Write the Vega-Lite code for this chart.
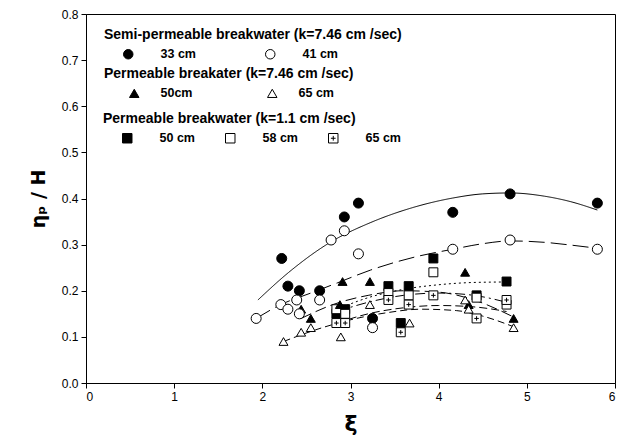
{
  "$schema": "https://vega.github.io/schema/vega-lite/v6.json",
  "width": 529,
  "height": 369,
  "autosize": {"type": "none"},
  "padding": {"left": 86, "top": 14, "right": 13, "bottom": 63},
  "background": "white",
  "datasets": {
    "points": [
      {"group": "semi", "series": "33 cm", "xi": 2.22, "eta": 0.27},
      {"group": "semi", "series": "33 cm", "xi": 2.29, "eta": 0.21},
      {"group": "semi", "series": "33 cm", "xi": 2.42, "eta": 0.20},
      {"group": "semi", "series": "33 cm", "xi": 2.65, "eta": 0.20},
      {"group": "semi", "series": "33 cm", "xi": 2.93, "eta": 0.36},
      {"group": "semi", "series": "33 cm", "xi": 3.09, "eta": 0.39},
      {"group": "semi", "series": "33 cm", "xi": 3.25, "eta": 0.14},
      {"group": "semi", "series": "33 cm", "xi": 4.16, "eta": 0.37},
      {"group": "semi", "series": "33 cm", "xi": 4.81, "eta": 0.41},
      {"group": "semi", "series": "33 cm", "xi": 5.80, "eta": 0.39},
      {"group": "semi", "series": "41 cm", "xi": 1.93, "eta": 0.14},
      {"group": "semi", "series": "41 cm", "xi": 2.21, "eta": 0.17},
      {"group": "semi", "series": "41 cm", "xi": 2.29, "eta": 0.16},
      {"group": "semi", "series": "41 cm", "xi": 2.39, "eta": 0.18},
      {"group": "semi", "series": "41 cm", "xi": 2.42, "eta": 0.15},
      {"group": "semi", "series": "41 cm", "xi": 2.65, "eta": 0.18},
      {"group": "semi", "series": "41 cm", "xi": 2.78, "eta": 0.31},
      {"group": "semi", "series": "41 cm", "xi": 2.93, "eta": 0.33},
      {"group": "semi", "series": "41 cm", "xi": 3.09, "eta": 0.28},
      {"group": "semi", "series": "41 cm", "xi": 3.25, "eta": 0.12},
      {"group": "semi", "series": "41 cm", "xi": 4.16, "eta": 0.29},
      {"group": "semi", "series": "41 cm", "xi": 4.81, "eta": 0.31},
      {"group": "semi", "series": "41 cm", "xi": 5.80, "eta": 0.29},
      {"group": "perm746", "series": "50cm", "xi": 2.44, "eta": 0.16},
      {"group": "perm746", "series": "50cm", "xi": 2.55, "eta": 0.14},
      {"group": "perm746", "series": "50cm", "xi": 2.88, "eta": 0.17},
      {"group": "perm746", "series": "50cm", "xi": 2.91, "eta": 0.22},
      {"group": "perm746", "series": "50cm", "xi": 3.22, "eta": 0.22},
      {"group": "perm746", "series": "50cm", "xi": 4.30, "eta": 0.24},
      {"group": "perm746", "series": "50cm", "xi": 4.34, "eta": 0.17},
      {"group": "perm746", "series": "50cm", "xi": 4.85, "eta": 0.14},
      {"group": "perm746", "series": "65 cm", "xi": 2.24, "eta": 0.09},
      {"group": "perm746", "series": "65 cm", "xi": 2.44, "eta": 0.11},
      {"group": "perm746", "series": "65 cm", "xi": 2.55, "eta": 0.12},
      {"group": "perm746", "series": "65 cm", "xi": 2.89, "eta": 0.10},
      {"group": "perm746", "series": "65 cm", "xi": 3.22, "eta": 0.17},
      {"group": "perm746", "series": "65 cm", "xi": 3.67, "eta": 0.13},
      {"group": "perm746", "series": "65 cm", "xi": 4.30, "eta": 0.18},
      {"group": "perm746", "series": "65 cm", "xi": 4.34, "eta": 0.16},
      {"group": "perm746", "series": "65 cm", "xi": 4.85, "eta": 0.12},
      {"group": "perm11", "series": "50 cm", "xi": 2.84, "eta": 0.15},
      {"group": "perm11", "series": "50 cm", "xi": 2.94, "eta": 0.16},
      {"group": "perm11", "series": "50 cm", "xi": 3.43, "eta": 0.21},
      {"group": "perm11", "series": "50 cm", "xi": 3.57, "eta": 0.13},
      {"group": "perm11", "series": "50 cm", "xi": 3.66, "eta": 0.21},
      {"group": "perm11", "series": "50 cm", "xi": 3.94, "eta": 0.27},
      {"group": "perm11", "series": "50 cm", "xi": 4.43, "eta": 0.19},
      {"group": "perm11", "series": "50 cm", "xi": 4.77, "eta": 0.22},
      {"group": "perm11", "series": "58 cm", "xi": 2.84, "eta": 0.16},
      {"group": "perm11", "series": "58 cm", "xi": 2.94, "eta": 0.15},
      {"group": "perm11", "series": "58 cm", "xi": 3.43, "eta": 0.195},
      {"group": "perm11", "series": "58 cm", "xi": 3.66, "eta": 0.19},
      {"group": "perm11", "series": "58 cm", "xi": 3.94, "eta": 0.24},
      {"group": "perm11", "series": "58 cm", "xi": 4.43, "eta": 0.185},
      {"group": "perm11", "series": "58 cm", "xi": 4.77, "eta": 0.17},
      {"group": "perm11", "series": "65 cm", "xi": 2.84, "eta": 0.13},
      {"group": "perm11", "series": "65 cm", "xi": 2.94, "eta": 0.13},
      {"group": "perm11", "series": "65 cm", "xi": 3.43, "eta": 0.18},
      {"group": "perm11", "series": "65 cm", "xi": 3.57, "eta": 0.11},
      {"group": "perm11", "series": "65 cm", "xi": 3.66, "eta": 0.17},
      {"group": "perm11", "series": "65 cm", "xi": 3.94, "eta": 0.19},
      {"group": "perm11", "series": "65 cm", "xi": 4.43, "eta": 0.14},
      {"group": "perm11", "series": "65 cm", "xi": 4.77, "eta": 0.18}
    ],
    "curves": [
      {"curve": "semi 33", "xi": 1.95, "eta": 0.18},
      {"curve": "semi 33", "xi": 2.3, "eta": 0.24},
      {"curve": "semi 33", "xi": 2.77, "eta": 0.305},
      {"curve": "semi 33", "xi": 3.23, "eta": 0.348},
      {"curve": "semi 33", "xi": 3.7, "eta": 0.38},
      {"curve": "semi 33", "xi": 4.16, "eta": 0.401},
      {"curve": "semi 33", "xi": 4.5, "eta": 0.41},
      {"curve": "semi 33", "xi": 4.81, "eta": 0.412},
      {"curve": "semi 33", "xi": 5.2, "eta": 0.405},
      {"curve": "semi 33", "xi": 5.5, "eta": 0.393},
      {"curve": "semi 33", "xi": 5.8, "eta": 0.375},
      {"curve": "semi 41", "xi": 1.93, "eta": 0.14},
      {"curve": "semi 41", "xi": 2.21, "eta": 0.17},
      {"curve": "semi 41", "xi": 2.55, "eta": 0.195},
      {"curve": "semi 41", "xi": 2.85, "eta": 0.217},
      {"curve": "semi 41", "xi": 3.23, "eta": 0.245},
      {"curve": "semi 41", "xi": 3.77, "eta": 0.275},
      {"curve": "semi 41", "xi": 4.16, "eta": 0.29},
      {"curve": "semi 41", "xi": 4.5, "eta": 0.302},
      {"curve": "semi 41", "xi": 4.81, "eta": 0.308},
      {"curve": "semi 41", "xi": 5.2, "eta": 0.305},
      {"curve": "semi 41", "xi": 5.5, "eta": 0.299},
      {"curve": "semi 41", "xi": 5.8, "eta": 0.292},
      {"curve": "perm 50", "xi": 2.44, "eta": 0.14},
      {"curve": "perm 50", "xi": 2.8, "eta": 0.17},
      {"curve": "perm 50", "xi": 3.2, "eta": 0.19},
      {"curve": "perm 50", "xi": 3.6, "eta": 0.2},
      {"curve": "perm 50", "xi": 4.0, "eta": 0.197},
      {"curve": "perm 50", "xi": 4.4, "eta": 0.18},
      {"curve": "perm 50", "xi": 4.85, "eta": 0.143},
      {"curve": "perm 65", "xi": 2.24, "eta": 0.09},
      {"curve": "perm 65", "xi": 2.6, "eta": 0.115},
      {"curve": "perm 65", "xi": 3.0, "eta": 0.137},
      {"curve": "perm 65", "xi": 3.4, "eta": 0.152},
      {"curve": "perm 65", "xi": 3.8, "eta": 0.16},
      {"curve": "perm 65", "xi": 4.2, "eta": 0.157},
      {"curve": "perm 65", "xi": 4.5, "eta": 0.145},
      {"curve": "perm 65", "xi": 4.85, "eta": 0.122},
      {"curve": "low 50", "xi": 2.85, "eta": 0.16},
      {"curve": "low 50", "xi": 3.2, "eta": 0.185},
      {"curve": "low 50", "xi": 3.6, "eta": 0.203},
      {"curve": "low 50", "xi": 4.0, "eta": 0.213},
      {"curve": "low 50", "xi": 4.4, "eta": 0.218},
      {"curve": "low 50", "xi": 4.77, "eta": 0.219},
      {"curve": "low 58", "xi": 2.85, "eta": 0.155},
      {"curve": "low 58", "xi": 3.2, "eta": 0.175},
      {"curve": "low 58", "xi": 3.6, "eta": 0.19},
      {"curve": "low 58", "xi": 4.0, "eta": 0.195},
      {"curve": "low 58", "xi": 4.4, "eta": 0.19},
      {"curve": "low 58", "xi": 4.77, "eta": 0.175},
      {"curve": "low 65", "xi": 2.85, "eta": 0.13},
      {"curve": "low 65", "xi": 3.2, "eta": 0.15},
      {"curve": "low 65", "xi": 3.6, "eta": 0.163},
      {"curve": "low 65", "xi": 4.0, "eta": 0.168},
      {"curve": "low 65", "xi": 4.4, "eta": 0.165},
      {"curve": "low 65", "xi": 4.77, "eta": 0.155}
    ]
  },
  "config": {
    "font": "Liberation Sans",
    "view": {"stroke": "black", "strokeWidth": 1},
    "axis": {
      "grid": false,
      "domainColor": "black",
      "tickColor": "black",
      "labelColor": "black",
      "titleColor": "black",
      "labelFont": "Liberation Sans",
      "labelFontSize": 12,
      "tickSize": 5,
      "labelPadding": 3,
      "titleFont": "DejaVu Sans",
      "titleFontWeight": "bold"
    },
    "legend": {
      "orient": "none",
      "padding": 0,
      "titleFont": "Liberation Sans",
      "titleFontSize": 14,
      "titleFontWeight": "bold",
      "titleColor": "black",
      "titleLimit": 500,
      "titlePadding": 6,
      "labelFont": "Liberation Sans",
      "labelFontSize": 12.5,
      "labelFontWeight": "bold",
      "labelColor": "black",
      "symbolStrokeWidth": 1,
      "symbolSize": 90,
      "direction": "horizontal"
    }
  },
  "encoding": {
    "x": {
      "field": "xi",
      "type": "quantitative",
      "scale": {"domain": [0, 6], "nice": false, "zero": false},
      "axis": {"values": [0, 1, 2, 3, 4, 5, 6], "format": "d", "title": "ξ", "titleFontSize": 22, "titlePadding": 11}
    },
    "y": {
      "field": "eta",
      "type": "quantitative",
      "scale": {"domain": [0, 0.8], "nice": false},
      "axis": {"values": [0, 0.1, 0.2, 0.3, 0.4, 0.5, 0.6, 0.7, 0.8], "format": ".1f", "title": "ηₚ / H", "titleFontSize": 19, "titlePadding": 13}
    }
  },
  "layer": [
    {
      "data": {"name": "curves"},
      "mark": {"type": "line", "color": "black", "strokeWidth": 1, "interpolate": "monotone"},
      "encoding": {
        "detail": {"field": "curve"},
        "strokeDash": {
          "field": "curve",
          "type": "nominal",
          "scale": {
            "domain": ["semi 33", "semi 41", "perm 50", "perm 65", "low 50", "low 58", "low 65"],
            "range": [[1, 0], [16, 6], [11, 5], [7, 4], [2, 3], [10, 4, 2, 4], [8, 4]]
          },
          "legend": null
        }
      }
    },
    {
      "data": {"name": "points"},
      "transform": [{"filter": "datum.group === 'perm11'"}],
      "mark": {"type": "point", "filled": true, "strokeWidth": 1, "opacity": 1, "size": 80},
      "encoding": {
        "shape": {
          "field": "series",
          "type": "nominal",
          "scale": {
            "domain": ["50 cm", "58 cm", "65 cm"],
            "range": ["square", "square", "M-1,-1H1V1H-1Z M-0.5,0H0.5 M0,-0.5V0.5"]
          },
          "legend": {
            "title": "Permeable breakwater (k=1.1 cm /sec)",
            "legendX": 17,
            "legendY": 98,
            "columns": 3,
            "symbolOffset": 18,
            "labelOffset": 26,
            "columnPadding": 11
          }
        },
        "fill": {
          "field": "series",
          "type": "nominal",
          "scale": {"domain": ["50 cm", "58 cm", "65 cm"], "range": ["black", "white", "white"]}
        },
        "stroke": {
          "field": "series",
          "type": "nominal",
          "scale": {"domain": ["50 cm", "58 cm", "65 cm"], "range": ["black", "black", "black"]}
        }
      }
    },
    {
      "data": {"name": "points"},
      "transform": [{"filter": "datum.group === 'perm746'"}],
      "mark": {"type": "point", "filled": true, "strokeWidth": 1, "opacity": 1, "size": 80},
      "encoding": {
        "shape": {
          "field": "series",
          "type": "nominal",
          "scale": {"domain": ["50cm", "65 cm"], "range": ["triangle-up", "triangle-up"]},
          "legend": {
            "title": "Permeable breakater (k=7.46 cm /sec)",
            "legendX": 18,
            "legendY": 53,
            "columns": 2,
            "symbolOffset": 24,
            "labelOffset": 20,
            "columnPadding": 49
          }
        },
        "fill": {
          "field": "series",
          "type": "nominal",
          "scale": {"domain": ["50cm", "65 cm"], "range": ["black", "white"]}
        },
        "stroke": {
          "field": "series",
          "type": "nominal",
          "scale": {"domain": ["50cm", "65 cm"], "range": ["black", "black"]}
        }
      }
    },
    {
      "data": {"name": "points"},
      "transform": [{"filter": "datum.group === 'semi'"}],
      "mark": {"type": "point", "filled": true, "strokeWidth": 1, "opacity": 1, "size": 100},
      "encoding": {
        "shape": {
          "field": "series",
          "type": "nominal",
          "scale": {"domain": ["33 cm", "41 cm"], "range": ["circle", "circle"]},
          "legend": {
            "title": "Semi-permeable breakwater (k=7.46 cm /sec)",
            "legendX": 18,
            "legendY": 14,
            "columns": 2,
            "symbolOffset": 18,
            "labelOffset": 26,
            "columnPadding": 50
          }
        },
        "fill": {
          "field": "series",
          "type": "nominal",
          "scale": {"domain": ["33 cm", "41 cm"], "range": ["black", "white"]}
        },
        "stroke": {
          "field": "series",
          "type": "nominal",
          "scale": {"domain": ["33 cm", "41 cm"], "range": ["black", "black"]}
        }
      }
    }
  ],
  "resolve": {
    "scale": {"shape": "independent", "fill": "independent", "stroke": "independent", "strokeDash": "independent"},
    "legend": {"shape": "independent", "fill": "independent", "stroke": "independent"}
  }
}
